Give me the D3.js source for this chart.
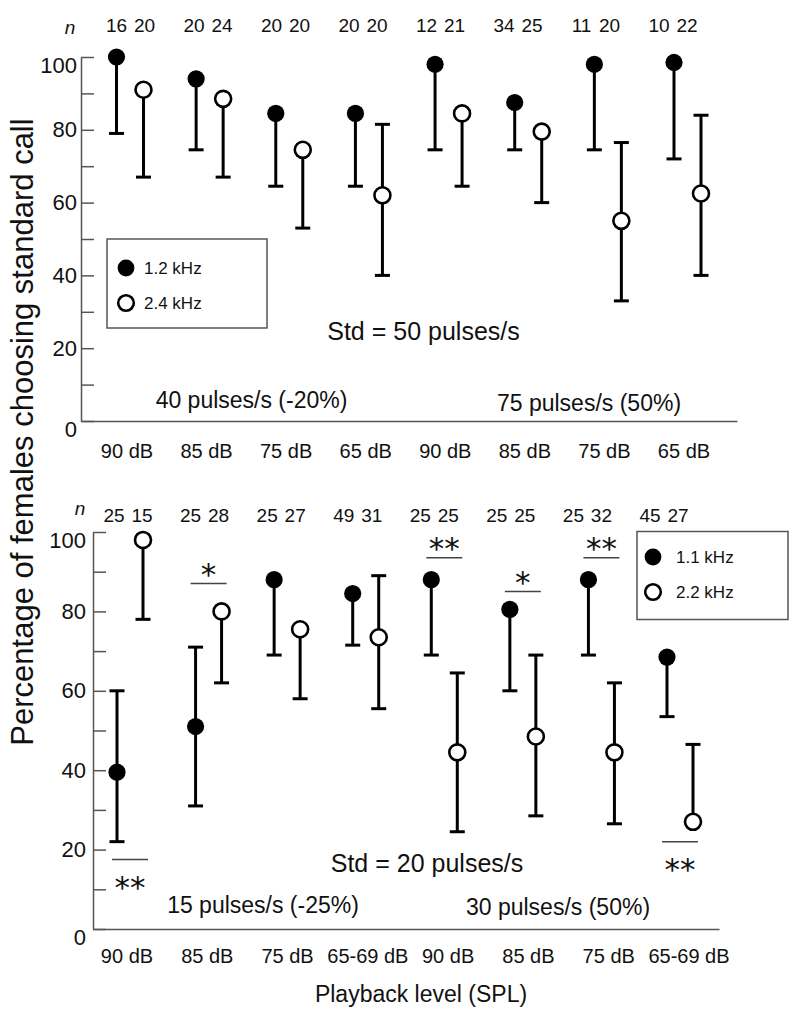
<!DOCTYPE html>
<html>
<head>
<meta charset="utf-8">
<script src="https://cdn.jsdelivr.net/npm/d3@7"></script>
<style>
  body { margin: 0; background: #fff; }
  text { font-family: "Liberation Sans", Arial, sans-serif; fill: #111; }
</style>
</head>
<body>
<script>
// Data
const groups = d3.range(8)
const yTicks = d3.range(0, 101, 10)

// Std = 50 pulses/s (top)
const topLevels = ["90 dB", "85 dB", "75 dB", "65 dB", "90 dB", "85 dB", "75 dB", "65 dB"]
const topConditions = ["40 pulses/s (-20%)", "75 pulses/s (50%)"]
const topSeriesNames = ["1.2 kHz", "2.4 kHz"]
const top12Mean = [100, 94, 84.5, 84.5, 98, 87.5, 98, 98.5]
const top12Lo = [79, 74.5, 64.5, 64.5, 74.5, 74.5, 74.5, 72]
const top12Hi = [100, 94, 84.5, 84.5, 98, 87.5, 98, 98.5]
const top24Mean = [91, 88.5, 74.5, 62, 84.5, 79.5, 55, 62.5]
const top24Lo = [67, 67, 53, 40, 64.5, 60, 33, 40]
const top24Hi = [91, 88.5, 74.5, 81.5, 84.5, 79.5, 76.5, 84]
const top12N = [16, 20, 20, 20, 12, 34, 11, 10]
const top24N = [20, 24, 20, 20, 21, 25, 20, 22]

// Std = 20 pulses/s (bottom)
const botLevels = ["90 dB", "85 dB", "75 dB", "65-69 dB", "90 dB", "85 dB", "75 dB", "65-69 dB"]
const botConditions = ["15 pulses/s (-25%)", "30 pulses/s (50%)"]
const botSeriesNames = ["1.1 kHz", "2.2 kHz"]
const bot11Mean = [39.5, 51, 88, 84.5, 88, 80.5, 88, 68.5]
const bot11Lo = [22, 31, 69, 71.5, 69, 60, 69, 53.5]
const bot11Hi = [60, 71, 88, 84.5, 88, 80.5, 88, 68.5]
const bot22Mean = [98, 80, 75.5, 73.5, 44.5, 48.5, 44.5, 27]
const bot22Lo = [78, 62, 58, 55.5, 24.5, 28.5, 26.5, 27]
const bot22Hi = [98, 80, 75.5, 89, 64.5, 69, 62, 46.5]
const bot11N = [25, 25, 25, 49, 25, 25, 25, 45]
const bot22N = [15, 28, 27, 31, 25, 25, 32, 27]

// significance marks (bottom panel)
const sigGroups = [0, 1, 4, 5, 6, 7]
const sigLevels = [17.5, 87, 93.5, 85, 93.5, 22]
const sigMarks = ["**", "*", "**", "*", "**", "**"]
const sigSide = ["below", "above", "above", "above", "above", "below"]

const svg = d3.select("body").append("svg")
  .attr("width", 800)
  .attr("height", 1017)

function drawPanel(p) {
  const g = svg.append("g")
  const y = d3.scaleLinear().domain([0, 100]).range(p.yRange)
  const x = d3.scalePoint().domain(groups).range(p.xMarks)
  const xl = d3.scalePoint().domain(groups).range(p.xLabels)
  const xn = d3.scalePoint().domain(groups).range(p.xN)
  const xLine = d3.scaleLinear().range([p.axisX, p.axisEnd])

  // y axis, ticks inside
  const yAxis = d3.axisLeft(y)
    .tickValues(yTicks)
    .tickSizeInner(-13)
    .tickSizeOuter(0)
    .tickPadding(p.tickPad)
    .tickFormat(d => d % 20 === 0 ? d : "")
  const ya = g.append("g").attr("transform", `translate(${p.axisX},0)`).call(yAxis)
  ya.select(".domain").attr("stroke", "#555").attr("stroke-width", 1.5)
  ya.selectAll(".tick line").attr("stroke", "#555").attr("stroke-width", 1.5)
  ya.selectAll(".tick text").attr("font-size", 22).attr("fill", "#111")
    .style("font-family", "Liberation Sans, Arial, sans-serif")
  ya.selectAll(".tick text").filter(d => d === 0 || d === 100).attr("y", 8)

  // x axis line only
  const xa = g.append("g").attr("transform", `translate(0,${y(0)})`)
    .call(d3.axisBottom(xLine).tickValues([]).tickSizeOuter(0))
  xa.select(".domain").attr("stroke", "#555").attr("stroke-width", 1.5)

  // category labels
  g.selectAll(".cat").data(p.levels).enter().append("text")
    .attr("x", (d, i) => xl(i))
    .attr("y", p.catY)
    .attr("text-anchor", "middle")
    .attr("font-size", 20)
    .text(d => d)

  // n labels
  g.append("text").attr("x", p.nLabel[0]).attr("y", p.nLabel[1])
    .attr("text-anchor", "middle").attr("font-size", 19).attr("font-style", "italic").text("n")
  p.series.forEach((s, k) => {
    g.selectAll(".n" + k).data(s.n).enter().append("text")
      .attr("x", (d, i) => xn(i) + (k === 0 ? -14 : 14))
      .attr("y", p.nY)
      .attr("text-anchor", "middle")
      .attr("font-size", 19)
      .text(d => d)
  })

  // error bars and markers
  p.series.forEach((s, k) => {
    const off = k === 0 ? -p.off : p.off
    const bars = g.append("g").attr("stroke", "#000").attr("stroke-width", 3)
    groups.forEach(i => {
      const cx = x(i) + off
      ;[s.lo[i], s.hi[i]].forEach(end => {
        if (end === s.mean[i]) return
        bars.append("line").attr("x1", cx).attr("x2", cx).attr("y1", y(s.mean[i])).attr("y2", y(end))
        bars.append("line").attr("x1", cx - 7.5).attr("x2", cx + 7.5).attr("y1", y(end)).attr("y2", y(end))
      })
    })
    g.selectAll(".m" + k).data(s.mean).enter().append("circle")
      .attr("cx", (d, i) => x(i) + off)
      .attr("cy", d => y(d))
      .attr("r", s.filled ? 8.6 : 8)
      .attr("fill", s.filled ? "#000" : "#fff")
      .attr("stroke", "#000")
      .attr("stroke-width", s.filled ? 0 : 2.6)
  })

  // condition labels and standard label
  p.conditions.forEach((c, j) => {
    g.append("text").attr("x", p.condPos[j][0]).attr("y", p.condPos[j][1])
      .attr("text-anchor", "middle").attr("font-size", 23).text(c)
  })
  g.append("text").attr("x", p.stdPos[0]).attr("y", p.stdPos[1])
    .attr("text-anchor", "middle").attr("font-size", 25).text(p.std)

  // legend
  const lg = g.append("g")
  lg.append("rect").attr("x", p.legend.x).attr("y", p.legend.y)
    .attr("width", p.legend.w).attr("height", p.legend.h)
    .attr("fill", "none").attr("stroke", "#555").attr("stroke-width", 1.5)
  p.series.forEach((s, k) => {
    const cy = p.legend.y + p.legend.rows[k]
    lg.append("circle").attr("cx", p.legend.x + p.legend.cx).attr("cy", cy)
      .attr("r", s.filled ? 8.4 : 7.8)
      .attr("fill", s.filled ? "#000" : "#fff")
      .attr("stroke", "#000").attr("stroke-width", s.filled ? 0 : 2.6)
    lg.append("text").attr("x", p.legend.x + p.legend.tx).attr("y", cy + 6)
      .attr("font-size", 17).text(s.name)
  })

  return { g, x, y }
}

const topPanel = drawPanel({
  yRange: [421, 57], axisX: 81, axisEnd: 737, tickPad: 4,
  xMarks: [130, 687.5], off: 13.5, xLabels: [127, 684], catY: 458,
  xN: [130.5, 673], nY: 31.5, nLabel: [70, 34],
  levels: topLevels,
  conditions: topConditions, condPos: [[251.5, 408], [589, 411]],
  std: "Std = 50 pulses/s", stdPos: [423.5, 340],
  legend: { x: 107, y: 239, w: 160, h: 89, cx: 19, tx: 37, rows: [29, 64] },
  series: [
    { name: topSeriesNames[0], mean: top12Mean, lo: top12Lo, hi: top12Hi, n: top12N, filled: true },
    { name: topSeriesNames[1], mean: top24Mean, lo: top24Lo, hi: top24Hi, n: top24N, filled: false }
  ]
})

const botPanel = drawPanel({
  yRange: [929, 532], axisX: 93, axisEnd: 719, tickPad: 7,
  xMarks: [130, 680], off: 13, xLabels: [127, 689], catY: 963,
  xN: [128, 664], nY: 522, nLabel: [80, 515],
  levels: botLevels,
  conditions: botConditions, condPos: [[263, 913], [558, 915]],
  std: "Std = 20 pulses/s", stdPos: [427, 872],
  legend: { x: 637, y: 531.5, w: 151, h: 88, cx: 16, tx: 39, rows: [25.5, 60.5] },
  series: [
    { name: botSeriesNames[0], mean: bot11Mean, lo: bot11Lo, hi: bot11Hi, n: bot11N, filled: true },
    { name: botSeriesNames[1], mean: bot22Mean, lo: bot22Lo, hi: bot22Hi, n: bot22N, filled: false }
  ]
})

// significance lines and asterisks
sigGroups.forEach((gi, j) => {
  const cx = botPanel.x(gi)
  const ly = botPanel.y(sigLevels[j])
  botPanel.g.append("line")
    .attr("x1", cx - 18).attr("x2", cx + 18).attr("y1", ly).attr("y2", ly)
    .attr("stroke", "#444").attr("stroke-width", 1.5)
  botPanel.g.append("text")
    .attr("x", cx)
    .attr("y", sigSide[j] === "above" ? ly + 1 : ly + 38)
    .attr("text-anchor", "middle")
    .attr("font-size", 31)
    .style("font-family", "DejaVu Sans, sans-serif")
    .attr("fill", "#333")
    .text(sigMarks[j])
})

// axis titles
svg.append("text").attr("x", 421).attr("y", 1001.5)
  .attr("text-anchor", "middle").attr("font-size", 23).text("Playback level (SPL)")
svg.append("text").attr("transform", "translate(33,432) rotate(-90)")
  .attr("text-anchor", "middle").attr("font-size", 31).text("Percentage of females choosing standard call")
</script>
</body>
</html>
